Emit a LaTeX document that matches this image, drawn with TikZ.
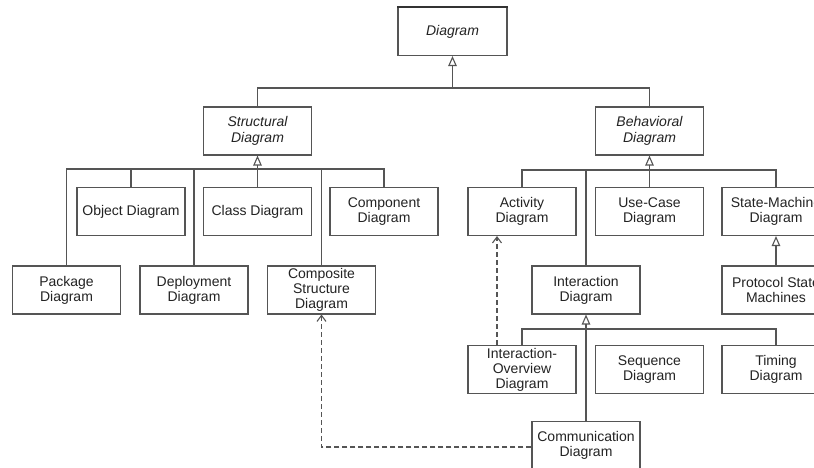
\documentclass[tikz,border=0pt]{standalone}
\usepackage{fontspec}
\setmainfont{Liberation Sans}
\usetikzlibrary{arrows.meta}
\definecolor{linec}{RGB}{85,85,85}
\definecolor{txtc}{RGB}{35,35,35}
\begin{document}
\begin{tikzpicture}[x=1pt,y=-1pt,
  box/.style={draw=linec, line width=1.1pt, minimum width=108pt, minimum height=48pt,
    inner sep=0pt, align=center, text=txtc, font=\fontsize{14}{15}\selectfont},
  absbox/.style={box, font=\fontsize{14}{16}\selectfont\itshape},
  conn/.style={draw=linec, line width=1.1pt},
  gen/.style={conn, -{Triangle[open, length=10pt, width=8.5pt]}},
  dep/.style={conn, dash pattern=on 5pt off 3pt, -{Straight Barb[length=6pt, width=9pt]}}]
\useasboundingbox (0,0) rectangle (814,468);
\clip (0,0) rectangle (814,468);
\fill[white] (0,0) rectangle (814,468);
% nodes
\node[absbox, minimum width=109pt] (diag) at (452.5,31.5) {Diagram};
\node[absbox] (struct) at (257.5,131) {Structural\\Diagram};
\node[absbox] (behav) at (649.5,131) {Behavioral\\Diagram};
\node[box] (object) at (131,211.5) {Object Diagram};
\node[box] (class) at (257.5,211.5) {Class Diagram};
\node[box] (component) at (384,211.5) {Component\\Diagram};
\node[box] (activity) at (522,211.5) {Activity\\Diagram};
\node[box] (usecase) at (649.5,211.5) {Use-Case\\Diagram};
\node[box] (sm) at (776,211.5) {State-Machine\\Diagram};
\node[box] (package) at (66.5,290) {Package\\Diagram};
\node[box] (deploy) at (194,290) {Deployment\\Diagram};
\node[box] (composite) at (321.5,290) {Composite\\Structure\\Diagram};
\node[box] (interaction) at (586,290) {Interaction\\Diagram};
\node[box] (protocol) at (776,290) {Protocol State\\Machines};
\node[box] (io) at (522,369.5) {Interaction-\\Overview\\Diagram};
\node[box] (sequence) at (649.5,369.5) {Sequence\\Diagram};
\node[box] (timing) at (776,369.5) {Timing\\Diagram};
\node[box] (comm) at (586,445.5) {Communication\\Diagram};
\draw[line width=2pt, black!80] (diag.north west) -- (diag.north east);
% bus coordinates
\coordinate (b0) at (452.5,88);
\coordinate (b1) at (257.5,169);
\coordinate (b2) at (649.5,170);
\coordinate (b3) at (586,329);
% top level
\draw[conn] (struct.north) |- (b0) -| (behav.north);
\draw[gen] (b0) -- (diag.south);
% structural
\draw[conn] (package.north) |- (component.north |- b1) -- (component.north);
\draw[conn] (object.north) -- (object.north |- b1);
\draw[conn] (deploy.north) -- (deploy.north |- b1);
\draw[conn] (composite.north) -- (composite.north |- b1);
\draw[gen] (class.north) -- (struct.south);
% behavioral
\draw[conn] (activity.north) |- (sm.north |- b2) -- (sm.north);
\draw[conn] (interaction.north) -- (interaction.north |- b2);
\draw[gen] (usecase.north) -- (behav.south);
\draw[gen] (protocol.north) -- (sm.south);
% interaction
\draw[conn] (io.north) |- (timing.north |- b3) -- (timing.north);
\draw[gen] (comm.north) -- (interaction.south);
% dependencies
\draw[dep] ([xshift=-25pt]io.north) -- ([xshift=-25pt]activity.south);
\draw[dep] ([yshift=-1.5pt]comm.west) -| (composite.south);
\end{tikzpicture}
\end{document}
